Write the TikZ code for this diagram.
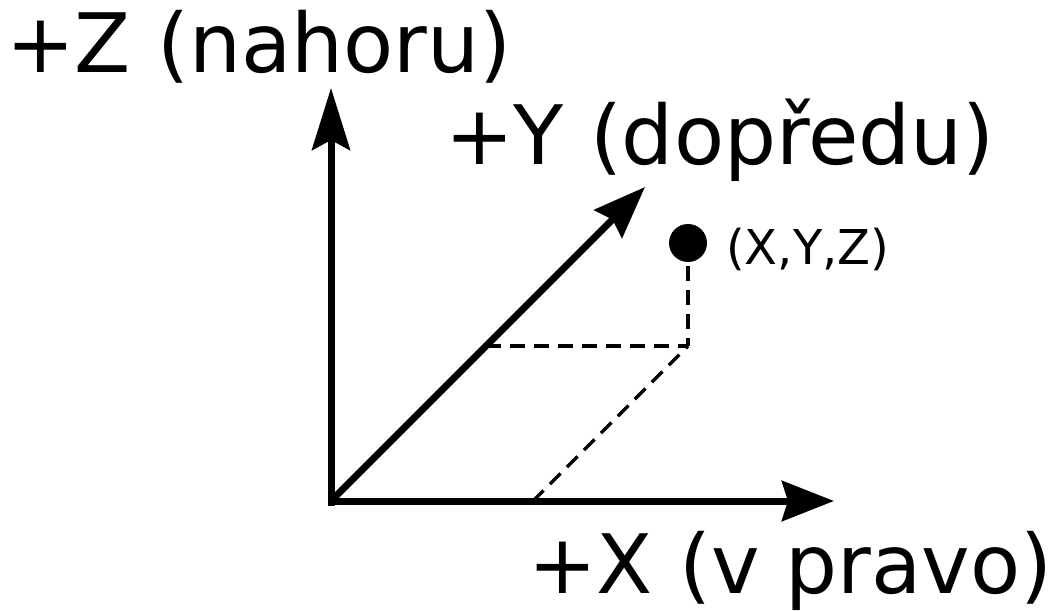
\documentclass[tikz,border=0pt]{standalone}
\usepackage{fontspec}
\setmainfont{DejaVu Sans}
\usetikzlibrary{arrows.meta}
\begin{document}
\begin{tikzpicture}[x=1pt,y=-1pt,
  axis/.style={line width=7pt},
  dashline/.style={line width=3.3pt, dash pattern=on 15pt off 9pt},
  biglabel/.style={anchor=base west, inner sep=0pt, font=\fontsize{82}{90}\selectfont},
  smalllabel/.style={anchor=base west, inner sep=0pt, font=\fontsize{48}{56}\selectfont}]
\useasboundingbox (0,0) rectangle (1058,612);
\coordinate (O) at (331,501);
\coordinate (Ztip) at (331,88);
\coordinate (Xtip) at (834,501);
\coordinate (Ytip) at (645,187);
\coordinate (Q) at (688,346);
\coordinate (Yp) at (486,346);
\coordinate (Xp) at (533,501);
\node[circle, fill=black, inner sep=0pt, minimum size=38pt] (P) at (688,243) {};
\draw[axis, -{Stealth[length=62pt, width=38pt, inset=10pt]}] (O) -- (Ztip);
\draw[axis, -{Stealth[length=52pt, width=40pt, inset=6pt]}] (O) -- (Xtip);
\draw[axis, -{Stealth[length=52pt, width=39pt, inset=6pt]}] (O) -- (Ytip);
\draw[line width=7pt, line cap=rect] (O) -- ++(0,-1pt);
\draw[dashline] (P.south) ++(0,4) -- (Q);
\draw[dashline] (Yp) -- (Q);
\draw[dashline] (Xp) -- (Q);
\node[biglabel] (zl) at (6,73) {+Z (nahoru)};
\node[biglabel] (yl) at (445,165) {+Y (dopředu)};
\node[biglabel] (xl) at (528,593) {+X (v pravo)};
\node[smalllabel] (pl) at (726,265) {(X,Y,Z)};
\end{tikzpicture}
\end{document}
